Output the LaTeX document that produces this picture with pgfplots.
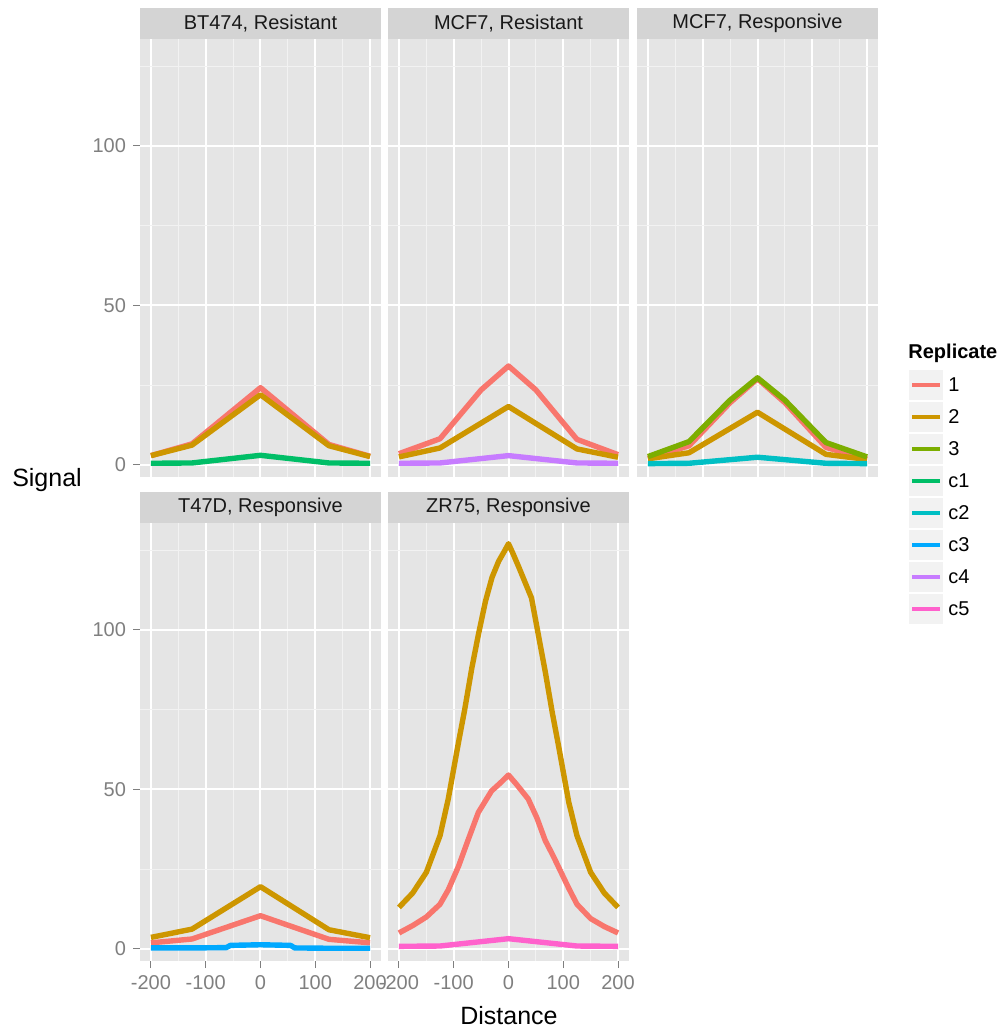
\documentclass[border=0pt]{standalone}
\usepackage{pgfplots}
\pgfplotsset{compat=1.18}
\usepackage{fontspec}
\setmainfont{Liberation Sans}

\definecolor{panelbg}{HTML}{E5E5E5}
\definecolor{stripbg}{HTML}{D4D4D4}
\definecolor{gridminor}{HTML}{F2F2F2}
\definecolor{tickgray}{HTML}{7F7F7F}
\definecolor{keybg}{HTML}{F2F2F2}
\definecolor{r1}{HTML}{F8766D}
\definecolor{r2}{HTML}{CD9600}
\definecolor{r3}{HTML}{7CAE00}
\definecolor{c1}{HTML}{00BE67}
\definecolor{c2}{HTML}{00BFC4}
\definecolor{c3}{HTML}{00A9FF}
\definecolor{c4}{HTML}{C77CFF}
\definecolor{c5}{HTML}{FF61CC}

\pgfplotsset{
  panel/.style={
    scale only axis, width=120.5pt, height=219pt, anchor=south west,
    xmin=-220, xmax=220, ymin=-3.8, ymax=133.5,
    axis background/.style={fill=panelbg},
    axis line style={draw=none},
    xtick={-200,-100,0,100,200}, ytick={0,50,100},
    xticklabels={-200,-100,0,100,200}, yticklabels={0,50,100},
    minor xtick={-150,-50,50,150}, minor ytick={25,75,125},
    grid=both,
    major grid style={white, line width=1pt},
    minor grid style={gridminor, line width=0.5pt},
    tick align=outside, tick pos=left,
    major tick length=3.5pt, minor tick length=0pt,
    major tick style={tickgray, line width=0.5pt},
    ticklabel style={font=\fontsize{10}{12}\selectfont, text=tickgray},
    every axis plot/.append style={line width=2.7pt, line join=round, no markers},
  },
  noxt/.style={xmajorticks=false},
  noyt/.style={ymajorticks=false},
}

% pixel position of the reference (x from left, y from top) -> pt
\newcommand{\at}[2]{at={({#1*0.5pt},{-#2*0.5pt})}}

\newcommand{\strip}[3]{% x-left, y-top, text
  \fill[stripbg] (#1,#2) rectangle ++(241,31);
  \node[font=\fontsize{10}{12}\selectfont, text={black!90}] at (#1+120.5,#2+15.5) {#3};
}
\newcommand{\key}[3]{% y-centre, colour, label
  \fill[keybg] (909,#1-15) rectangle (943,#1+15);
  \draw[#2, line width=1.9pt] (912,#1) -- (940,#1);
  \node[anchor=west, font=\fontsize{10}{12}\selectfont, inner sep=0pt] at (948,#1) {#3};
}

\begin{document}
\begin{tikzpicture}
\useasboundingbox (0,0) rectangle (500.5pt,-516pt);

% ---- row 1 ----
\begin{axis}[panel, noxt, \at{140}{477}]
  \addplot[r1] coordinates {(-200,2.9) (-125,6.6) (0,24.2) (125,6.4) (200,2.7)};
  \addplot[r2] coordinates {(-200,2.9) (-125,6.2) (0,22.0) (125,6.0) (200,2.6)};
  \addplot[c1] coordinates {(-200,0.5) (-125,0.6) (0,3.0) (125,0.6) (200,0.5)};
\end{axis}

\begin{axis}[panel, noxt, noyt, \at{388}{477}]
  \addplot[r1] coordinates {(-200,3.5) (-125,8.2) (-50,23.5) (0,31) (50,23.5) (125,8) (200,3.2)};
  \addplot[r2] coordinates {(-200,2.5) (-125,5.3) (0,18.3) (125,5) (200,2.4)};
  \addplot[c4] coordinates {(-200,0.5) (-125,0.6) (0,2.9) (125,0.6) (200,0.5)};
\end{axis}

\begin{axis}[panel, noxt, noyt, \at{637}{477}]
  \addplot[r1] coordinates {(-200,2) (-125,6) (-50,19.5) (0,27) (50,19.5) (125,5.5) (200,1.8)};
  \addplot[r2] coordinates {(-200,1.9) (-125,3.8) (0,16.5) (125,3.3) (200,1.7)};
  \addplot[r3] coordinates {(-200,2.6) (-125,7.3) (-50,20.3) (0,27.3) (50,20.3) (125,7) (200,2.5)};
  \addplot[c2] coordinates {(-200,0.4) (-125,0.5) (0,2.4) (125,0.5) (200,0.4)};
\end{axis}

% ---- row 2 ----
\begin{axis}[panel, \at{140}{961}]
  \addplot[r1] coordinates {(-200,1.9) (-125,3.1) (0,10.4) (125,3) (200,1.9)};
  \addplot[r2] coordinates {(-200,3.6) (-125,6.2) (0,19.5) (125,6) (200,3.5)};
  \addplot[c3] coordinates {(-200,0.3) (-125,0.3) (-62.5,0.4) (-55,1.1) (0,1.3) (55,1.1) (62.5,0.3) (125,0.2) (200,0.2)};
\end{axis}

\begin{axis}[panel, noyt, \at{388}{961}]
  \addplot[r1] coordinates {(-200,5) (-175,7.3) (-150,10) (-125,14) (-110,18.5) (-91,26) (-73,34.5) (-55,42.8) (-31,49.5) (-15,52) (0,54.5)
                            (15,51.5) (36,47) (52,41) (67,34) (82,29) (96,24) (110,19) (125,14) (150,9.5) (175,7) (200,5)};
  \addplot[r2] coordinates {(-200,13) (-175,17.5) (-150,24) (-125,35.5) (-110,47) (-91,65) (-80,75) (-67,88) (-55,98.5) (-42,109) (-30,116.5) (-18,121.5) (-8,124.5) (0,127)
                            (8,124) (18,120) (30,115) (42,110) (55,98) (67,87) (80,74) (91,64) (110,46) (125,35.5) (150,24) (175,17.5) (200,13)};
  \addplot[c5] coordinates {(-200,0.8) (-125,0.9) (0,3.2) (125,0.9) (200,0.8)};
\end{axis}

\begin{scope}[x=0.5pt, y=-0.5pt]
% strips
\strip{140}{8}{BT474, Resistant}
\strip{388}{8}{MCF7, Resistant}
\strip{637}{8}{MCF7, Responsive}
\strip{140}{492}{T47D, Responsive}
\strip{388}{492}{ZR75, Responsive}

% axis titles
\node[font=\fontsize{12.5}{15}\selectfont] at (47,480) {Signal};
\node[font=\fontsize{12.5}{15}\selectfont] at (509,1016) {Distance};

% legend
\node[anchor=west, font=\fontsize{10}{12}\selectfont\bfseries, inner sep=0pt] at (908,353) {Replicate};
\key{385}{r1}{1}
\key{417}{r2}{2}
\key{449}{r3}{3}
\key{481}{c1}{c1}
\key{513}{c2}{c2}
\key{545}{c3}{c3}
\key{577}{c4}{c4}
\key{609}{c5}{c5}
\end{scope}
\end{tikzpicture}
\end{document}
